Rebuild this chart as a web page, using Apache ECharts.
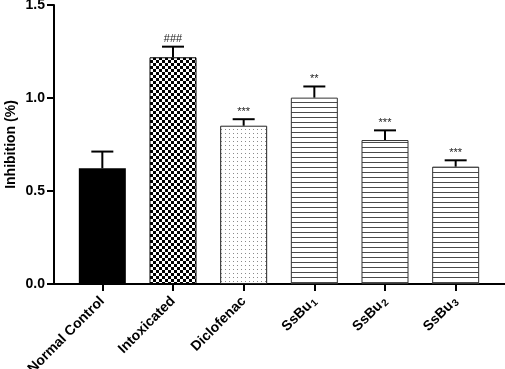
<!DOCTYPE html>
<html>
<head>
<meta charset="utf-8">
<script src="https://cdn.jsdelivr.net/npm/echarts@6/dist/echarts.min.js"></script>
<style>
  html, body { margin: 0; padding: 0; background: #fff; }
  #main { width: 505px; height: 369px; }
</style>
</head>
<body>
<div id="main"></div>
<script>
// data
var groups = ['Normal Control', 'Intoxicated', 'Diclofenac', 'SsBu1', 'SsBu2', 'SsBu3'];
var means = [0.622, 1.219, 0.851, 1.002, 0.774, 0.631];
var sems = [0.09, 0.057, 0.035, 0.06, 0.052, 0.034];
var marks = ['', '###', '***', '**', '***', '***'];

var font = 'Liberation Sans, Arial, sans-serif';

// fill patterns
function makePattern(w, h, draw) {
    var c = document.createElement('canvas');
    c.width = w; c.height = h;
    var ctx = c.getContext('2d');
    ctx.fillStyle = '#fff';
    ctx.fillRect(0, 0, w, h);
    draw(ctx);
    return { image: c, repeat: 'repeat' };
}
var checker = makePattern(6, 6, function (ctx) {
    ctx.fillStyle = '#000';
    ctx.fillRect(0, 0, 3, 3);
    ctx.fillRect(3, 3, 3, 3);
});
var dots = makePattern(4, 4, function (ctx) {
    ctx.fillStyle = '#8a8a8a';
    ctx.fillRect(1, 1, 1, 1);
});
var stripes = makePattern(4, 5, function (ctx) {
    ctx.fillStyle = '#4a4a4a';
    ctx.fillRect(0, 2, 4, 1);
});
var fills = ['#000', checker, dots, stripes, stripes, stripes];
var borders = ['#000', '#000', '#222', '#333', '#333', '#333'];

var mychart = echarts.init(document.getElementById('main'));

var barData = means.map(function (v, i) {
    return {
        value: v,
        itemStyle: { color: fills[i], borderColor: borders[i], borderWidth: i === 0 ? 0 : 1 }
    };
});
var errData = means.map(function (v, i) { return [i, v, sems[i]]; });

var yBase = {
    type: 'value',
    min: 0,
    max: 1.5,
    interval: 0.5,
    splitLine: { show: false }
};
var axisLineStyle = { color: '#000', width: 2 };

option = {
    animation: false,
    backgroundColor: '#fff',
    grid: [
        // outer frame: axis lines from 54 to right edge
        { left: 54, right: 0, top: 5, bottom: 85, containLabel: false, outerBoundsMode: 'none' },
        // inner band holding the bars
        { left: 67, right: 14, top: 5, bottom: 85, containLabel: false, outerBoundsMode: 'none' }
    ],
    xAxis: [
        {
            gridIndex: 0,
            type: 'value',
            min: 0,
            max: 1,
            splitLine: { show: false },
            axisLine: { onZero: false, lineStyle: axisLineStyle },
            axisTick: { show: false },
            axisLabel: { show: false }
        },
        {
            gridIndex: 1,
            type: 'category',
            data: groups,
            axisLine: { show: true, onZero: false, lineStyle: axisLineStyle },
            axisTick: { show: true, alignWithLabel: true, length: 7, lineStyle: { color: '#000', width: 2 } },
            axisLabel: {
                interval: 0,
                rotate: 45,
                margin: 15,
                color: '#000',
                fontFamily: font,
                fontWeight: 'bold',
                fontSize: 14,
                formatter: function (name) {
                    var m = name.match(/^(SsBu)(\d)$/);
                    if (m) return '{b|' + m[1] + '}{s|' + m[2] + '}';
                    return '{b|' + name + '}';
                },
                rich: {
                    b: { fontFamily: font, fontWeight: 'bold', fontSize: 14, color: '#000' },
                    s: { fontFamily: font, fontSize: 10, color: '#000', padding: [6, 0, 0, 1] }
                }
            }
        }
    ],
    yAxis: [
        Object.assign({}, yBase, {
            gridIndex: 0,
            name: 'Inhibition (%)',
            nameLocation: 'middle',
            nameGap: 36,
            nameMoveOverlap: false,
            nameTextStyle: { color: '#000', fontFamily: font, fontWeight: 'bold', fontSize: 14 },
            axisLine: { show: true, onZero: false, lineStyle: axisLineStyle },
            axisTick: { show: true, length: 7, lineStyle: { color: '#000', width: 2 } },
            axisLabel: {
                color: '#000',
                fontFamily: font,
                fontWeight: 'bold',
                fontSize: 14,
                margin: 9,
                formatter: function (v) { return v.toFixed(1); }
            }
        }),
        Object.assign({}, yBase, {
            gridIndex: 1,
            show: false
        })
    ],
    series: [
        {
            type: 'bar',
            xAxisIndex: 1,
            yAxisIndex: 1,
            barWidth: 47,
            data: barData,
            z: 2
        },
        {
            type: 'custom',
            xAxisIndex: 1,
            yAxisIndex: 1,
            z: 3,
            data: errData,
            renderItem: function (params, api) {
                var x = api.value(0), y = api.value(1), e = api.value(2);
                var base = api.coord([x, y]);
                var top = api.coord([x, y + e]);
                var st = { stroke: '#000', lineWidth: 2 };
                return {
                    type: 'group',
                    children: [
                        { type: 'line', shape: { x1: base[0], y1: base[1], x2: top[0], y2: top[1] }, style: st },
                        { type: 'line', shape: { x1: top[0] - 11, y1: top[1], x2: top[0] + 11, y2: top[1] }, style: st },
                        {
                            type: 'text',
                            style: {
                                text: marks[params.dataIndex],
                                x: top[0], y: top[1] - 2,
                                align: 'center', verticalAlign: 'bottom',
                                fontFamily: font, fontSize: 11, fill: '#222'
                            }
                        }
                    ]
                };
            }
        }
    ]
};
mychart.setOption(option);
</script>
</body>
</html>
